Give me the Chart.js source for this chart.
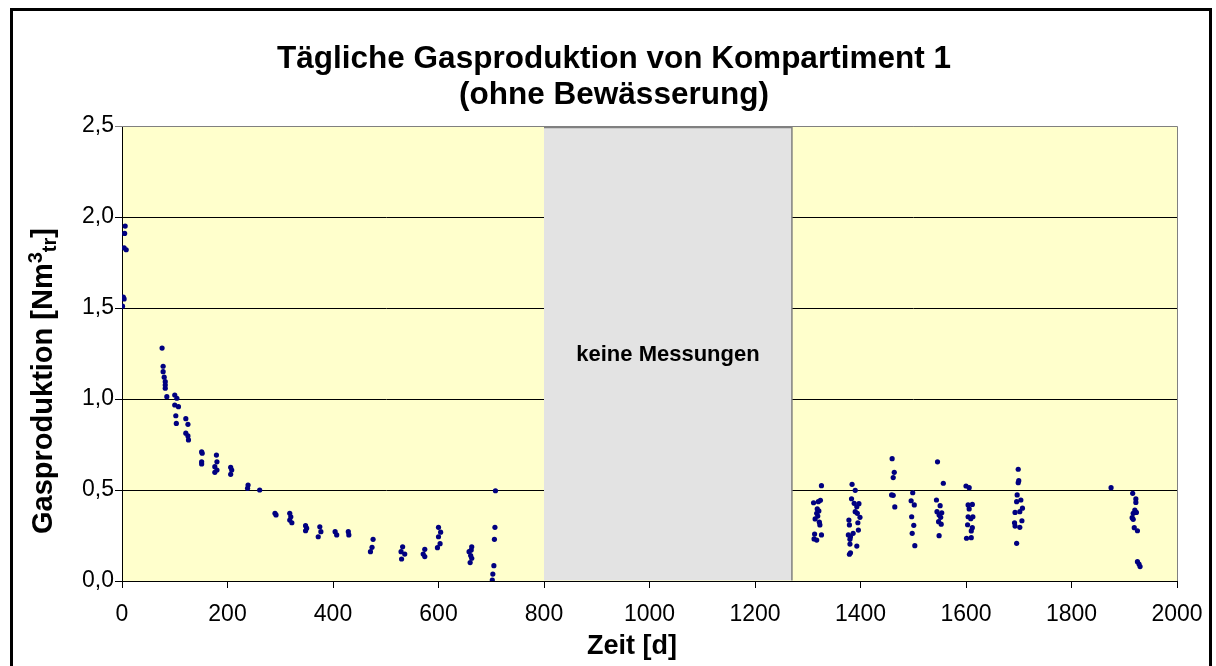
<!DOCTYPE html>
<html>
<head>
<meta charset="utf-8">
<script src="https://cdn.jsdelivr.net/npm/chart.js@4.4.1/dist/chart.umd.min.js"></script>
<style>
  html, body { margin: 0; padding: 0; background: #ffffff; }
  #wrap { width: 1216px; height: 666px; }
</style>
</head>
<body>
<div id="wrap"><canvas id="c" width="1216" height="666"></canvas></div>
<script>
// ---- Data ----
const chartTitle = ["Tägliche Gasproduktion von Kompartiment 1", "(ohne Bewässerung)"];
const xAxisTitle = "Zeit [d]";
const yAxisTitleMain = "Gasproduktion [Nm";
const yAxisTitleSup = "3";
const yAxisTitleSub = "tr";
const yAxisTitleEnd = "]";
const gapLabel = "keine Messungen";
const gapStart = 800;   // day
const gapEnd = 1270;    // day

const days = [
  1, 2.5, 4, 4, 5, 6, 8,
  76, 78, 78, 80, 82, 82, 82, 85, 100, 104, 100, 107, 102, 103,
  121, 125, 121, 125, 126, 151, 152, 151, 151, 179, 180, 176, 180, 176,
  206, 208, 206, 239, 238, 261, 290, 292, 318, 320, 318, 322,
  348, 350, 348, 375, 377, 372, 404, 407, 429, 430,
  476, 474, 471, 532, 529, 536, 530, 574, 571, 574,
  600, 604, 600, 603, 598, 663, 658, 663, 660, 662, 661,
  708, 707, 706, 705, 703, 702,
  1326, 1311, 1320, 1324, 1318, 1321, 1317, 1319, 1314, 1322, 1323, 1313, 1326, 1312, 1317,
  1384, 1390, 1383, 1388, 1397, 1393, 1390, 1394, 1399, 1378, 1395, 1379, 1396, 1386, 1377, 1381, 1380, 1380, 1393, 1381, 1379,
  1460, 1464, 1462, 1459, 1462, 1465,
  1499, 1496, 1502, 1497, 1501, 1498, 1503,
  1546, 1557, 1544, 1551, 1545, 1554, 1549, 1552, 1548, 1553, 1549,
  1600, 1606, 1604, 1612, 1606, 1604, 1613, 1609, 1603, 1612, 1610, 1601, 1610,
  1699, 1700, 1699, 1697, 1696, 1704, 1707, 1693, 1702, 1706, 1692, 1693, 1702, 1696,
  1875,
  1916, 1922, 1922, 1920, 1923, 1917, 1915, 1917, 1919, 1925, 1925, 1928, 1930
];
const gasProduction = [
  1.51, 1.56, 1.55, 1.83, 1.91, 1.95, 1.82,
  1.28, 1.18, 1.15, 1.12, 1.095, 1.077, 1.059, 1.013, 1.022, 1.004, 0.967, 0.958, 0.908, 0.866,
  0.892, 0.861, 0.812, 0.797, 0.775, 0.71, 0.702, 0.655, 0.643, 0.692, 0.655, 0.628, 0.61, 0.597,
  0.625, 0.61, 0.586, 0.527, 0.509, 0.50, 0.372, 0.363, 0.372, 0.353, 0.335, 0.32,
  0.304, 0.29, 0.276, 0.298, 0.271, 0.243, 0.271, 0.253, 0.271, 0.253,
  0.229, 0.185, 0.161, 0.188, 0.161, 0.148, 0.121, 0.174, 0.148, 0.134,
  0.295, 0.268, 0.243, 0.205, 0.183, 0.188, 0.161, 0.125, 0.101, 0.17, 0.14,
  0.496, 0.295, 0.229, 0.084, 0.038, 0.005,
  0.524, 0.43, 0.436, 0.443, 0.396, 0.385, 0.372, 0.357, 0.341, 0.323, 0.308, 0.258, 0.253, 0.231, 0.225,
  0.531, 0.498, 0.452, 0.427, 0.425, 0.408, 0.381, 0.372, 0.35, 0.335, 0.32, 0.308, 0.28, 0.262, 0.253, 0.243, 0.229, 0.203, 0.192, 0.155, 0.147,
  0.672, 0.597, 0.568, 0.473, 0.471, 0.407,
  0.485, 0.441, 0.418, 0.353, 0.306, 0.262, 0.194,
  0.655, 0.537, 0.445, 0.414, 0.381, 0.375, 0.363, 0.35, 0.326, 0.312, 0.249,
  0.522, 0.513, 0.418, 0.421, 0.396, 0.353, 0.353, 0.342, 0.309, 0.293, 0.275, 0.235, 0.238,
  0.614, 0.551, 0.54, 0.473, 0.436, 0.445, 0.40, 0.377, 0.381, 0.331, 0.32, 0.302, 0.295, 0.207,
  0.513,
  0.482, 0.451, 0.432, 0.39, 0.377, 0.372, 0.348, 0.339, 0.293, 0.276, 0.106, 0.093, 0.079
];
const xTickStep = 200;
const yTickStep = 0.5;

// ---- Styling ----
const FONT = "'Liberation Sans', Arial, Helvetica, sans-serif";
const plotBg = '#FFFFCC';
const gapFill = '#E3E3E3';
const gapBorder = '#808080';
const pointColor = '#000080';

const points = days.map((d, i) => ({ x: d, y: gasProduction[i] }));

const decor = {
  id: 'decor',
  beforeDraw(chart) {
    const { ctx, chartArea: a } = chart;
    ctx.save();
    ctx.fillStyle = '#ffffff';
    ctx.fillRect(0, 0, chart.width, chart.height);
    ctx.fillStyle = plotBg;
    ctx.fillRect(a.left, a.top, a.right - a.left, a.bottom - a.top);
    ctx.restore();
  },
  beforeDatasetsDraw(chart) {
    const { ctx, chartArea: a, scales } = chart;
    const x0 = scales.x.getPixelForValue(gapStart);
    const x1 = scales.x.getPixelForValue(gapEnd);
    const yTop = a.top + 1;
    const yBot = a.bottom - 0.5;
    ctx.save();
    ctx.fillStyle = gapFill;
    ctx.fillRect(x0, yTop, x1 - x0, yBot - yTop);
    ctx.strokeStyle = gapBorder;
    ctx.lineWidth = 1.5;
    ctx.beginPath();
    ctx.moveTo(x0, yTop + 0.5);
    ctx.lineTo(x1, yTop + 0.5);
    ctx.lineTo(x1, yBot);
    ctx.stroke();
    ctx.fillStyle = '#000000';
    ctx.font = 'bold 22px ' + FONT;
    ctx.textAlign = 'center';
    ctx.textBaseline = 'middle';
    ctx.fillText(gapLabel, (x0 + x1) / 2, (a.top + a.bottom) / 2 + 1);
    ctx.restore();
  },
  afterDraw(chart) {
    const { ctx, chartArea: a } = chart;
    ctx.save();
    // plot area border (top/right)
    ctx.strokeStyle = '#808080';
    ctx.lineWidth = 1;
    ctx.beginPath();
    ctx.moveTo(a.left, a.top + 0.5);
    ctx.lineTo(a.right + 0.5, a.top + 0.5);
    ctx.lineTo(a.right + 0.5, a.bottom);
    ctx.stroke();
    // outer chart border
    ctx.strokeStyle = '#000000';
    ctx.lineWidth = 3;
    ctx.strokeRect(11.5, 9.5, 1199, 720);
    // title
    ctx.fillStyle = '#000000';
    ctx.textAlign = 'center';
    ctx.textBaseline = 'alphabetic';
    ctx.font = 'bold 31.5px ' + FONT;
    ctx.fillText(chartTitle[0], 614, 68);
    ctx.fillText(chartTitle[1], 614, 104);
    // x axis title
    ctx.font = 'bold 27px ' + FONT;
    ctx.textBaseline = 'middle';
    ctx.fillText(xAxisTitle, 632, 647);
    // y axis title (rotated, with superscript and subscript)
    const big = 'bold 29px ' + FONT, small = 'bold 20px ' + FONT;
    const parts = [
      { t: yAxisTitleMain, f: big, dy: 0 },
      { t: yAxisTitleSup, f: small, dy: -8 },
      { t: yAxisTitleSub, f: small, dy: 6 },
      { t: yAxisTitleEnd, f: big, dy: 0 }
    ];
    let total = 0;
    parts.forEach(p => { ctx.font = p.f; p.w = ctx.measureText(p.t).width; total += p.w; });
    ctx.translate(44, 381);
    ctx.rotate(-Math.PI / 2);
    ctx.textAlign = 'left';
    ctx.textBaseline = 'middle';
    let x = -total / 2;
    parts.forEach(p => { ctx.font = p.f; ctx.fillText(p.t, x, p.dy); x += p.w; });
    ctx.restore();
  }
};

new Chart(document.getElementById('c'), {
  type: 'scatter',
  data: {
    datasets: [{
      label: 'Gasproduktion',
      data: points,
      backgroundColor: pointColor,
      borderColor: pointColor,
      borderWidth: 0,
      pointRadius: 2.6,
      pointHoverRadius: 2.6
    }]
  },
  options: {
    responsive: false,
    animation: false,
    devicePixelRatio: 1,
    layout: { padding: { left: 0, right: 39, top: 126, bottom: 0 } },
    plugins: {
      legend: { display: false },
      title: { display: false },
      tooltip: { enabled: false }
    },
    scales: {
      x: {
        type: 'linear',
        min: 0, max: 2000,
        afterFit(s) { s.height = 85; },
        ticks: {
          stepSize: xTickStep,
          color: '#000000',
          font: { family: FONT, size: 23 },
          padding: 13,
          maxRotation: 0,
          autoSkip: false,
          callback: v => String(v)
        },
        grid: {
          drawOnChartArea: false,
          drawTicks: true,
          tickLength: 7,
          color: '#000000'
        },
        border: { display: true, color: '#000000', width: 1 }
      },
      y: {
        type: 'linear',
        min: 0, max: 2.5,
        afterFit(s) { s.width = 122; },
        ticks: {
          stepSize: yTickStep,
          color: '#000000',
          font: { family: FONT, size: 23 },
          padding: 1,
          callback: v => v.toFixed(1).replace('.', ',')
        },
        grid: {
          drawOnChartArea: true,
          drawTicks: true,
          tickLength: 7,
          color: c => (c.tick && c.tick.value === 2.5) ? '#808080' : '#000000',
          lineWidth: 1
        },
        border: { display: true, color: '#000000', width: 1 }
      }
    }
  },
  plugins: [decor]
});
</script>
</body>
</html>
